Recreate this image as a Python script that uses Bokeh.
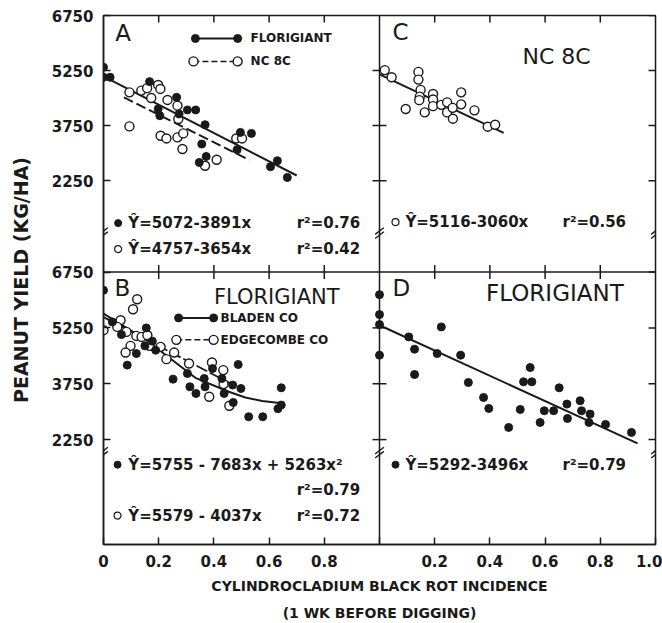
import math
from bokeh.plotting import figure
from bokeh.models import Range1d, LinearAxis, FixedTicker, Span, Label, Title
from bokeh.embed import file_html
from bokeh.resources import INLINE

# ---------------- data ----------------
# Panel A: Florigiant (filled) and NC 8C (open)
a_flor_x = [0.0, 0.0, 0.024, 0.167, 0.198, 0.204, 0.265, 0.274, 0.304, 0.334,
            0.368, 0.356, 0.372, 0.347, 0.496, 0.536, 0.484, 0.605, 0.630, 0.666]
a_flor_y = [5340, 5066, 5066, 4948, 4203, 4020, 4520, 4066, 4176, 4176,
            3774, 3247, 2909, 2745, 3564, 3537, 3092, 2628, 2792, 2336]
a_nc_x = [0.094, 0.137, 0.158, 0.198, 0.206, 0.173, 0.232, 0.268, 0.271, 0.094,
          0.207, 0.228, 0.268, 0.289, 0.286, 0.410, 0.368, 0.481, 0.502]
a_nc_y = [4656, 4703, 4770, 4858, 4749, 4503, 4449, 4293, 3930, 3728,
          3474, 3400, 3428, 3537, 3111, 2819, 2655, 3400, 3400]
a_flor_fit_x = [0.0, 0.70]
a_flor_fit_y = [5090, 2390]
a_nc_fit_x = [0.074, 0.528]
a_nc_fit_y = [4520, 2811]

# Panel C: NC 8C
c_x = [0.019, 0.044, 0.141, 0.141, 0.149, 0.146, 0.144, 0.095, 0.164, 0.194, 0.194,
       0.194, 0.224, 0.245, 0.245, 0.265, 0.266, 0.296, 0.296, 0.344, 0.392, 0.419]
c_y = [5262, 5066, 5213, 5003, 4722, 4539, 4443, 4203, 4110, 4612, 4462,
       4279, 4315, 4383, 4110, 4233, 3938, 4656, 4329, 4165, 3720, 3774]
c_fit_x = [0.0, 0.45]
c_fit_y = [5145, 3550]

# Panel B: Florigiant, Bladen Co (filled) and Edgecombe Co (open)
b_bla_x = [0.0, 0.032, 0.065, 0.086, 0.119, 0.155, 0.150, 0.177, 0.189, 0.252,
           0.304, 0.313, 0.335, 0.365, 0.368, 0.395, 0.429, 0.437, 0.468, 0.470,
           0.488, 0.498, 0.526, 0.577, 0.632, 0.644, 0.644]
b_bla_y = [6260, 5410, 5070, 4250, 4560, 5249, 4767, 4893, 4652, 3874,
           4024, 3668, 3489, 3890, 3668, 4158, 3890, 3489, 3714, 3247,
           4266, 3622, 2864, 2864, 3079, 3641, 3178]
b_edg_x = [0.0, 0.062, 0.107, 0.122, 0.050, 0.083, 0.098, 0.080, 0.119, 0.138,
           0.159, 0.167, 0.207, 0.228, 0.256, 0.310, 0.393, 0.434, 0.383, 0.456, 0.435]
b_edg_y = [5188, 5456, 5750, 6018, 5276, 5142, 4767, 4587, 5035, 5008,
           5054, 4767, 4740, 4410, 4587, 4293, 4320, 4116, 3400, 3159, 3740]
b_bla_fit_x = [0.0, 0.152, 0.333, 0.454, 0.514, 0.575, 0.653]
b_bla_fit_y = [5632, 4936, 3909, 3534, 3381, 3285, 3220]
b_edg_fit_x = [0.0, 0.48]
b_edg_fit_y = [5540, 3680]

# Panel D: Florigiant
d_x = [0.0, 0.0, 0.0, 0.0, 0.106, 0.127, 0.127, 0.209, 0.224, 0.294, 0.322, 0.377,
       0.396, 0.468, 0.510, 0.522, 0.552, 0.546, 0.582, 0.597, 0.631, 0.651, 0.679,
       0.681, 0.727, 0.732, 0.763, 0.759, 0.819, 0.913]
d_y = [6142, 5606, 5338, 4517, 5008, 4678, 3998, 4561, 5276, 4517, 3783, 3381,
       3087, 2577, 3060, 3802, 3802, 4185, 2711, 3025, 3025, 3641, 3204,
       2818, 3293, 3025, 2936, 2711, 2658, 2443]
d_fit_x = [0.0, 0.935]
d_fit_y = [5321, 2148]

# ticks / labels
y_ticks = [2250, 3750, 5250, 6750]
x_ticks = [0.0, 0.2, 0.4, 0.6, 0.8, 1.0]
x_tick_labels_left = ["0", "0.2", "0.4", "0.6", "0.8", ""]
x_tick_labels_right = ["", "0.2", "0.4", "0.6", "0.8", "1.0"]
x_title_1 = "CYLINDROCLADIUM BLACK ROT INCIDENCE"
x_title_2 = "(1 WK BEFORE DIGGING)"
y_title = "PEANUT YIELD (KG/HA)"

eq_a1 = "Ŷ=5072-3891x"
eq_a2 = "Ŷ=4757-3654x"
r2_a1 = "r²=0.76"
r2_a2 = "r²=0.42"
eq_c = "Ŷ=5116-3060x"
r2_c = "r²=0.56"
eq_b1 = "Ŷ=5755 - 7683x + 5263x²"
r2_b1 = "r²=0.79"
eq_b2 = "Ŷ=5579 - 4037x"
r2_b2 = "r²=0.72"
eq_d = "Ŷ=5292-3496x"
r2_d = "r²=0.79"

# ---------------- layout ----------------
FONT = "DejaVu Sans"
INK = "#1a1a1a"
TOP_K = 27.2      # yield units per pixel, upper panels
BOT_K = 26.8      # yield units per pixel, lower panels
FRAME_H = 530
TOP_END = 6750
TOP_START = TOP_END - FRAME_H * TOP_K
BOT_END = 6750 + 257 * BOT_K
BOT_START = BOT_END - FRAME_H * BOT_K
BREAK_TOP = 820
BREAK_BOT = 1900

p = figure(width=662, height=623, output_backend="svg", toolbar_location=None,
           x_range=Range1d(0, 2), y_range=Range1d(TOP_START, TOP_END),
           x_axis_type=None, y_axis_type=None,
           min_border_left=103, min_border_right=7, min_border_top=15, min_border_bottom=78)
p.extra_x_ranges = {"right": Range1d(-1, 1)}
p.extra_y_ranges = {"bot": Range1d(BOT_START, BOT_END)}
p.xgrid.visible = False
p.ygrid.visible = False
p.outline_line_color = INK
p.outline_line_width = 1.5
p.background_fill_color = "white"
p.border_fill_color = "white"


def bot_to_main(v):
    frac = (v - BOT_START) / (BOT_END - BOT_START)
    return round(TOP_START + frac * (TOP_END - TOP_START), 3)


left_ticks = [float(v) for v in y_ticks] + [bot_to_main(v) for v in y_ticks]
left_over = {}
for v in y_ticks:
    left_over[float(v)] = str(v)
    left_over[bot_to_main(v)] = str(v)

bottom_ticks = [round(t, 1) for t in x_ticks] + [round(t + 1.0, 1) for t in x_ticks[1:]]
bottom_over = {}
for t, lab in zip(x_ticks, x_tick_labels_left):
    bottom_over[round(t, 1)] = lab
for t, lab in zip(x_ticks[1:], x_tick_labels_right[1:]):
    bottom_over[round(t + 1.0, 1)] = lab
inner_x = [round(t, 1) for t in x_ticks[1:-1]] + [round(t + 1.0, 1) for t in x_ticks[1:-1]]


def style_axis(ax):
    ax.major_tick_in = 7
    ax.major_tick_out = 0
    ax.minor_tick_line_color = None
    ax.major_tick_line_color = INK
    ax.major_tick_line_width = 1.5
    ax.axis_line_color = INK
    ax.axis_line_width = 1.5
    ax.major_label_text_font = FONT
    ax.major_label_text_font_style = "bold"
    ax.major_label_text_font_size = "15px"
    ax.major_label_text_color = INK


yl = LinearAxis(ticker=FixedTicker(ticks=left_ticks), major_label_overrides=left_over)
style_axis(yl)
yl.major_label_standoff = 10
yl.axis_label = y_title
yl.axis_label_text_font = FONT
yl.axis_label_text_font_style = "bold"
yl.axis_label_text_font_size = "19px"
yl.axis_label_text_color = INK
yl.axis_label_standoff = 17
p.add_layout(yl, "left")

xb = LinearAxis(ticker=FixedTicker(ticks=bottom_ticks), major_label_overrides=bottom_over)
style_axis(xb)
xb.major_label_standoff = 10
p.add_layout(xb, "below")

# x-axis title (two lines) as stacked titles below the axis
for tt, so in [(x_title_1, 13), (x_title_2, 5)]:
    p.add_layout(Title(text=tt, align="center", text_font=FONT, text_font_style="bold",
                       text_font_size="14px", text_color=INK, standoff=so), "below")

TICK = dict(marker="dash", size=14, line_color=INK, line_width=1.5)
# inward ticks on the top and right frame edges (half of each mark is clipped by the frame)
p.scatter(inner_x, [TOP_END] * len(inner_x), angle=math.pi / 2, **TICK)
p.scatter([2.0] * len(y_ticks), y_ticks, **TICK)
p.scatter([2.0] * len(y_ticks), y_ticks, y_range_name="bot", **TICK)

# panel dividers
p.add_layout(Span(location=1.0, dimension="height", line_color=INK, line_width=1.5))
p.add_layout(Span(location=6750, dimension="width", line_color=INK, line_width=1.5,
                  y_range_name="bot"))
# ticks crossing the dividers
p.scatter(inner_x, [6750] * len(inner_x), y_range_name="bot", angle=math.pi / 2, **TICK)
p.scatter([1.0] * 3, y_ticks[:3], **TICK)
p.scatter([1.0] * 3, y_ticks[:3], y_range_name="bot", **TICK)

# axis-break marks: two short parallel slanted strokes at each break
BRK = dict(marker="dash", size=11, angle=0.65, line_color=INK, line_width=1.4)
brk_x = [0.0, 1.0, 2.0]
p.scatter(brk_x * 2, [BREAK_TOP + 55] * 3 + [BREAK_TOP - 55] * 3, **BRK)
p.scatter(brk_x * 2, [BREAK_BOT + 54] * 3 + [BREAK_BOT - 54] * 3, y_range_name="bot", **BRK)

FILLED = dict(marker="circle", size=8, fill_color=INK, line_color=INK)
OPEN = dict(marker="circle", size=9, fill_color="white", line_color=INK, line_width=1.4)

# ---- Panel A (upper left)
p.line(a_flor_fit_x, a_flor_fit_y, line_color=INK, line_width=2)
p.line(a_nc_fit_x, a_nc_fit_y, line_color=INK, line_width=2, line_dash="10 4")
p.scatter(a_nc_x, a_nc_y, **OPEN)
p.scatter(a_flor_x, a_flor_y, **FILLED)

# ---- Panel C (upper right)
p.line(c_fit_x, c_fit_y, x_range_name="right", line_color=INK, line_width=2)
p.scatter(c_x, c_y, x_range_name="right", **OPEN)

# ---- Panel B (lower left)
p.line(b_bla_fit_x, b_bla_fit_y, y_range_name="bot", line_color=INK, line_width=2)
p.line(b_edg_fit_x, b_edg_fit_y, y_range_name="bot", line_color=INK, line_width=1.8,
       line_dash="12 3")
p.scatter(b_edg_x, b_edg_y, y_range_name="bot", **OPEN)
p.scatter(b_bla_x, b_bla_y, y_range_name="bot", **FILLED)

# ---- Panel D (lower right)
p.line(d_fit_x, d_fit_y, x_range_name="right", y_range_name="bot", line_color=INK, line_width=2)
p.scatter(d_x, d_y, x_range_name="right", y_range_name="bot", **FILLED)


def label(x, y, text, size, bold=False, xr="default", yr_="default", align="left"):
    p.add_layout(Label(x=x, y=y, text=text, x_range_name=xr, y_range_name=yr_,
                       text_font=FONT, text_font_size=size,
                       text_font_style="bold" if bold else "normal",
                       text_color=INK, text_align=align, text_baseline="middle"))


# panel letters and titles
label(0.043, 6260, "A", "23px")
label(0.047, 6288, "C", "23px", xr="right")
label(0.518, 5640, "NC 8C", "22px", xr="right")
label(0.040, 6330, "B", "23px", yr_="bot")
label(0.400, 6080, "FLORIGIANT", "21px", yr_="bot")
label(0.047, 6330, "D", "23px", xr="right", yr_="bot")
label(0.386, 6187, "FLORIGIANT", "23px", xr="right", yr_="bot")

# legend panel A
LEG = "12px"
p.line([0.333, 0.486], [6124, 6124], line_color=INK, line_width=2)
p.scatter([0.333, 0.486], [6124, 6124], **FILLED)
label(0.533, 6124, "FLORIGIANT", LEG, bold=True)
p.line([0.326, 0.486], [5499, 5499], line_color=INK, line_width=1.5, line_dash="6 3")
p.scatter([0.326, 0.486], [5499, 5499], **OPEN)
label(0.533, 5499, "NC 8C", LEG, bold=True)

# legend panel B
p.line([0.272, 0.399], [5517, 5517], y_range_name="bot", line_color=INK, line_width=2)
p.scatter([0.272, 0.399], [5517, 5517], y_range_name="bot", **FILLED)
label(0.424, 5517, "BLADEN CO", LEG, bold=True, yr_="bot")
p.line([0.264, 0.399], [4928, 4928], y_range_name="bot", line_color=INK, line_width=1.5,
       line_dash="6 3")
p.scatter([0.264, 0.399], [4928, 4928], y_range_name="bot", **OPEN)
label(0.424, 4928, "EDGECOMBE CO", LEG, bold=True, yr_="bot")

# equations
EQ = "15px"
SMALL_F = dict(marker="circle", size=7, fill_color=INK, line_color=INK)
SMALL_O = dict(marker="circle", size=7, fill_color="white", line_color=INK, line_width=1.2)
p.scatter([0.053], [1092], **SMALL_F)
label(0.09, 1092, eq_a1, EQ, bold=True)
label(0.70, 1092, r2_a1, EQ, bold=True)
p.scatter([0.053], [385], **SMALL_O)
label(0.09, 385, eq_a2, EQ, bold=True)
label(0.70, 385, r2_a2, EQ, bold=True)

p.scatter([0.058], [1120], x_range_name="right", **SMALL_O)
label(0.094, 1120, eq_c, EQ, bold=True, xr="right")
label(0.663, 1120, r2_c, EQ, bold=True, xr="right")

p.scatter([0.051], [1578], y_range_name="bot", **SMALL_F)
label(0.09, 1578, eq_b1, EQ, bold=True, yr_="bot")
label(0.70, 908, r2_b1, EQ, bold=True, yr_="bot")
p.scatter([0.051], [211], y_range_name="bot", **SMALL_O)
label(0.09, 211, eq_b2, EQ, bold=True, yr_="bot")
label(0.70, 211, r2_b2, EQ, bold=True, yr_="bot")

p.scatter([0.058], [1578], x_range_name="right", y_range_name="bot", **SMALL_F)
label(0.094, 1578, eq_d, EQ, bold=True, xr="right", yr_="bot")
label(0.663, 1578, r2_d, EQ, bold=True, xr="right", yr_="bot")

open("out.html", "w").write(file_html(p, INLINE))
